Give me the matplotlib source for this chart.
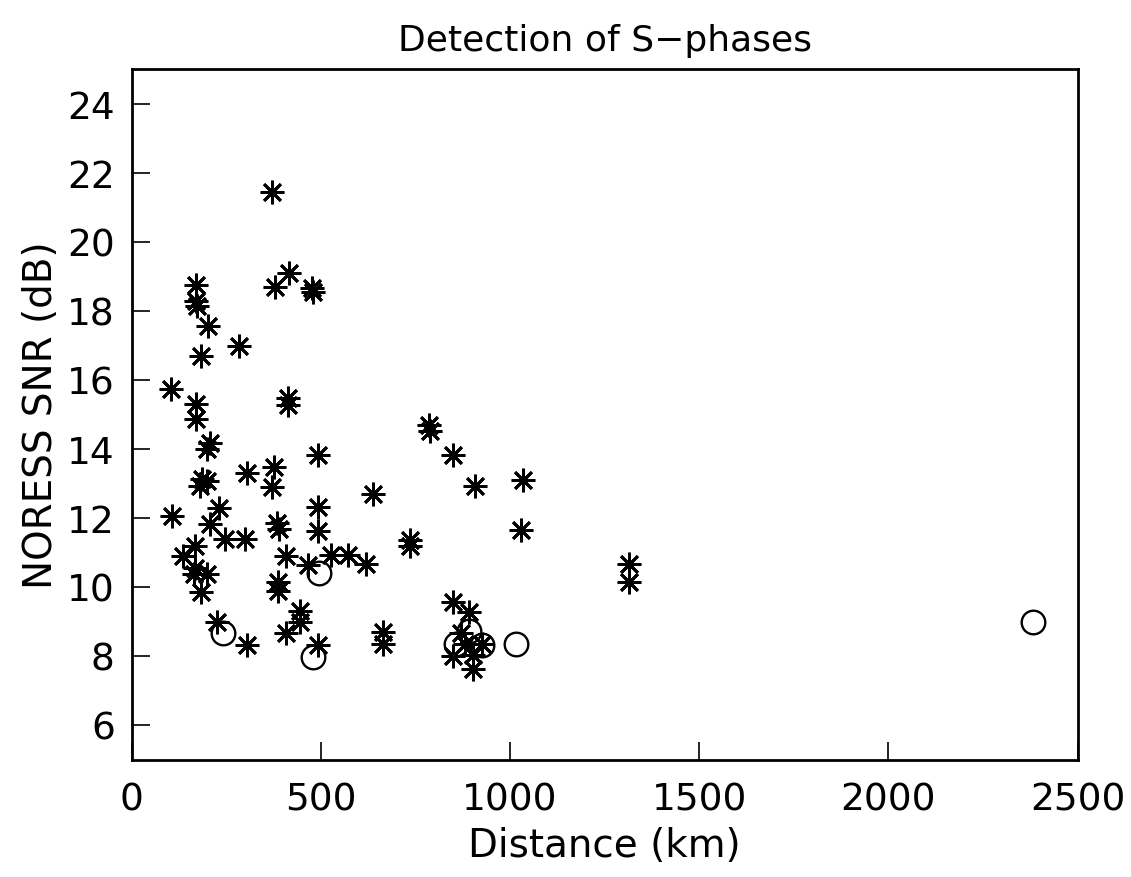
import numpy as np
import matplotlib
matplotlib.use("Agg")
import matplotlib.pyplot as plt

# S-phase detections: distance (km) vs NORESS SNR (dB)
# asterisks
star_km = [170, 170, 172, 201, 416, 379, 476, 479, 184, 284,
           104, 170, 170, 413, 414, 207, 200, 494, 377, 370,
           304, 185, 199, 181, 637, 494, 232, 108, 384, 207,
           391, 494, 247, 300, 168, 137, 408, 527, 573, 619,
           467, 168, 165, 199, 183, 386, 388, 225, 304, 445,
           445, 408, 494, 664, 664, 786, 789, 850, 908, 1034,
           736, 736, 1029, 1315, 1315, 850, 893, 872, 881, 925,
           850, 903, 902, 370]
star_snr = [18.75, 18.27, 18.14, 17.57, 19.09, 18.69, 18.66, 18.53, 16.70, 16.97,
            15.73, 15.30, 14.86, 15.47, 15.28, 14.17, 14.00, 13.83, 13.47, 12.89,
            13.30, 13.12, 13.08, 12.91, 12.70, 12.31, 12.28, 12.04, 11.85, 11.83,
            11.67, 11.63, 11.38, 11.38, 11.17, 10.90, 10.90, 10.93, 10.93, 10.67,
            10.64, 10.54, 10.38, 10.38, 9.84, 10.15, 9.89, 8.97, 8.32, 9.29,
            8.97, 8.66, 8.32, 8.68, 8.35, 14.68, 14.52, 13.83, 12.91, 13.10,
            11.36, 11.19, 11.65, 10.67, 10.13, 9.57, 9.28, 8.66, 8.35, 8.34,
            8.00, 8.03, 7.61, 21.44]

# open circles
circ_km = [241, 480, 496, 1016, 2383, 893, 858, 925]
circ_snr = [8.66, 7.98, 10.40, 8.35, 8.98, 8.71, 8.35, 8.32]

x_ticks = [0, 500, 1000, 1500, 2000, 2500]
y_ticks = [6, 8, 10, 12, 14, 16, 18, 20, 22, 24]

plt.rcParams['font.family'] = ['DejaVu Sans']

fig = plt.figure(figsize=(11.31, 8.78), dpi=100)
ax = fig.add_axes([0.1163, 0.1338, 0.8364, 0.7865])

ax.plot(star_km, star_snr, linestyle='none', marker=(8, 2, 0),
        markersize=17, markeredgewidth=2.0, color='black')
ax.plot(circ_km, circ_snr, linestyle='none', marker='o',
        markersize=17, markeredgewidth=1.7, markerfacecolor='none',
        markeredgecolor='black')

ax.set_xlim(0, 2500)
ax.set_ylim(5, 25)
ax.set_xticks(x_ticks)
ax.set_yticks(y_ticks)
ax.tick_params(direction='in', length=13, width=1.2, labelsize=27,
               top=False, right=False)
ax.tick_params(axis='x', pad=16)
ax.tick_params(axis='y', pad=12)
for s in ax.spines.values():
    s.set_linewidth(2)

ax.set_title('Detection of S\u2212phases', fontsize=26, pad=14)
ax.set_xlabel('Distance (km)', fontsize=28, labelpad=6)
ax.set_ylabel('NORESS SNR (dB)', fontsize=28, labelpad=5)

fig.savefig('out.png', dpi=100)
